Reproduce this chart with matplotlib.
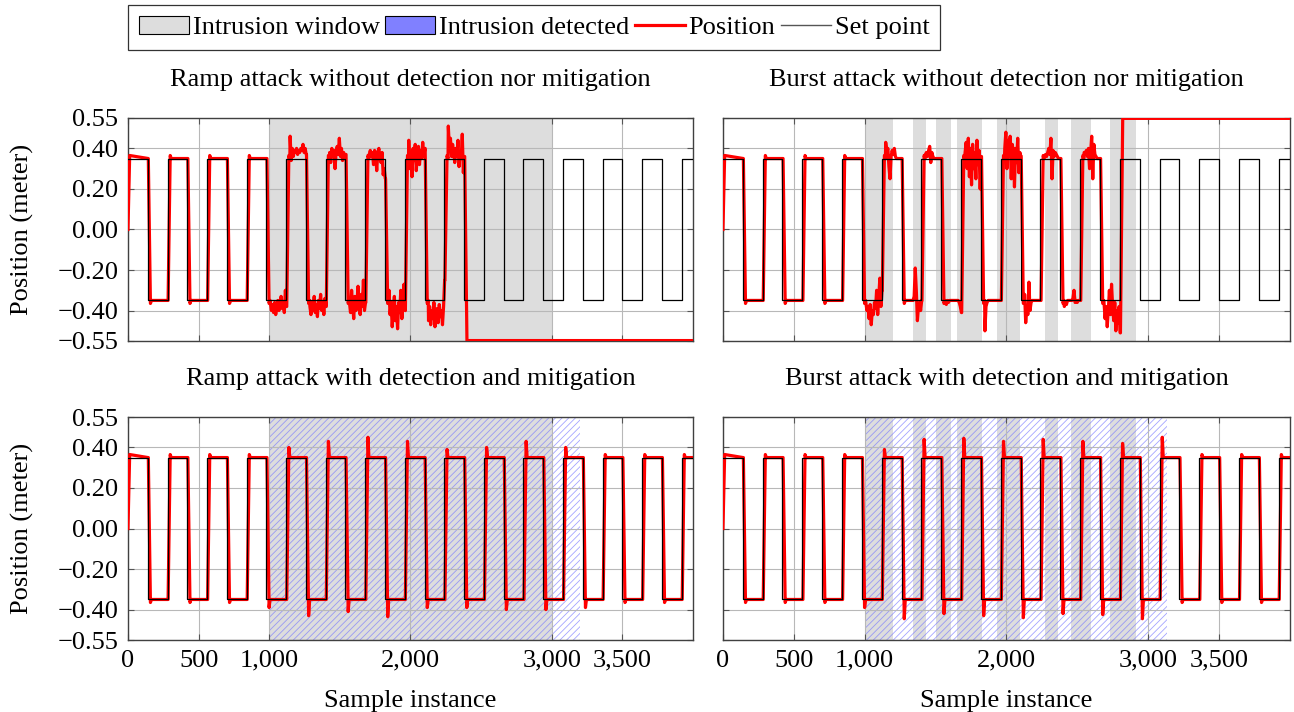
import numpy as np
import matplotlib.pyplot as plt
from matplotlib.patches import Patch
from matplotlib.lines import Line2D

plt.rcParams['font.family'] = ['Liberation Serif', 'DejaVu Serif']
plt.rcParams['hatch.linewidth'] = 0.6

# set point: square wave switching every 140 samples
sp_times = [0, 140, 280, 420, 560, 700, 840, 980, 1120, 1260, 1400, 1540, 1680, 1820,
            1960, 2100, 2240, 2380, 2520, 2660, 2800, 2940, 3080, 3220, 3360, 3500,
            3640, 3780, 3920]
sp_levels = [0.35, -0.35, 0.35, -0.35, 0.35, -0.35, 0.35, -0.35, 0.35, -0.35, 0.35,
             -0.35, 0.35, -0.35, 0.35, -0.35, 0.35, -0.35, 0.35, -0.35, 0.35, -0.35,
             0.35, -0.35, 0.35, -0.35, 0.35, -0.35, 0.35]
x_end = 4000

# intrusion windows and detection spans
ramp_window = (1000, 3000)
ramp_detected = (1000, 3200)
burst_windows = [(1000, 1200), (1340, 1430), (1500, 1610), (1650, 1830),
                 (1935, 2095), (2270, 2365), (2455, 2595), (2730, 2915)]
burst_detected = (1000, 3130)

# position readings inside attacked half periods (index = half period number)
ramp_off_noise = {
    7: [-0.36, -0.40, -0.37, -0.41, -0.36, -0.42, -0.38, -0.35, -0.40, -0.37, -0.33, -0.39, -0.36, -0.41, -0.30, -0.38],
    8: [0.46, 0.34, 0.40, 0.36, 0.39, 0.38, 0.40, 0.37, 0.39, 0.38, 0.40, 0.39, 0.42, 0.38, 0.40, 0.37],
    9: [-0.38, -0.42, -0.36, -0.40, -0.33, -0.41, -0.37, -0.43, -0.35, -0.39, -0.32, -0.40, -0.36, -0.42, -0.34, -0.38],
    10: [0.38, 0.33, 0.40, 0.36, 0.39, 0.30, 0.38, 0.41, 0.37, 0.45, 0.36, 0.40, 0.34, 0.38, 0.36, 0.37],
    11: [-0.36, -0.41, -0.30, -0.38, -0.44, -0.33, -0.40, -0.36, -0.28, -0.39, -0.42, -0.32, -0.38, -0.25, -0.40, -0.36],
    12: [0.37, 0.39, 0.36, 0.38, 0.32, 0.39, 0.37, 0.29, 0.38, 0.40, 0.35, 0.33, 0.38, 0.27, 0.30, 0.25],
    13: [-0.30, -0.42, -0.36, -0.48, -0.40, -0.33, -0.45, -0.38, -0.49, -0.36, -0.41, -0.30, -0.44, -0.37, -0.27, -0.40],
    14: [0.44, 0.30, 0.38, 0.26, 0.40, 0.34, 0.42, 0.29, 0.37, 0.41, 0.32, 0.39, 0.35, 0.43, 0.36, 0.40],
    15: [-0.45, -0.38, -0.47, -0.40, -0.44, -0.36, -0.48, -0.41, -0.39, -0.46, -0.37, -0.43, -0.40, -0.47, -0.38, -0.25],
    16: [0.51, 0.40, 0.45, 0.36, 0.42, 0.38, 0.33, 0.40, 0.36, 0.44, 0.31, 0.38, 0.35, 0.47, 0.28, 0.36],
}
ramp_off_fail = (2380, -0.548)

burst_off_noise = {
    7: [-0.36, -0.40, -0.38, -0.44, -0.37, -0.47, -0.40, -0.42, -0.36, -0.39, -0.30, -0.42, -0.33, -0.24, -0.38, -0.30],
    8: [0.43, 0.38, 0.40, 0.31, 0.25, 0.36, 0.39, 0.37, 0.40, 0.36, 0.35, 0.35, 0.35, 0.35, 0.35, 0.35],
    9: [-0.35, -0.35, -0.35, -0.35, -0.35, -0.35, -0.35, -0.35, -0.33, -0.19, -0.30, -0.45, -0.38, -0.36, -0.40, -0.35],
    10: [0.37, 0.38, 0.36, 0.39, 0.41, 0.33, 0.38, 0.36, 0.35, 0.35, 0.35, 0.35, 0.35, 0.35, 0.35, 0.35],
    11: [-0.36, -0.37, -0.35, -0.36, -0.35, -0.35, -0.35, -0.35, -0.35, -0.35, -0.35, -0.35, -0.35, -0.36, -0.38, -0.41],
    12: [0.38, 0.43, 0.30, 0.45, 0.26, 0.40, 0.22, 0.42, 0.30, 0.38, 0.25, 0.44, 0.32, 0.39, 0.20, 0.36],
    13: [-0.50, -0.38, -0.36, -0.35, -0.35, -0.35, -0.35, -0.35, -0.35, -0.35, -0.35, -0.35, -0.35, -0.35, -0.35, -0.35],
    14: [0.40, 0.48, 0.30, 0.44, 0.36, 0.46, 0.25, 0.42, 0.38, 0.21, 0.40, 0.33, 0.45, 0.28, 0.38, 0.36],
    15: [-0.32, -0.46, -0.38, -0.42, -0.26, -0.40, -0.36, -0.35, -0.35, -0.35, -0.35, -0.35, -0.35, -0.35, -0.35, -0.35],
    16: [0.36, 0.37, 0.36, 0.38, 0.40, 0.37, 0.45, 0.25, 0.39, 0.36, 0.38, 0.37, 0.36, 0.35, 0.35, 0.35],
    17: [-0.38, -0.36, -0.37, -0.35, -0.35, -0.35, -0.35, -0.35, -0.34, -0.30, -0.36, -0.35, -0.36, -0.35, -0.35, -0.35],
    18: [0.38, 0.37, 0.39, 0.36, 0.40, 0.30, 0.38, 0.46, 0.25, 0.42, 0.37, 0.36, 0.35, 0.35, 0.35, 0.35],
    19: [-0.36, -0.44, -0.38, -0.48, -0.40, -0.30, -0.42, -0.27, -0.38, -0.45, -0.36, -0.50, -0.40, -0.46, -0.38, -0.51],
}
burst_off_fail = (2800, 0.548)

# overshoot peaks after each switch when mitigation is active
ramp_on_peaks = {7: -0.39, 8: 0.40, 9: -0.43, 10: 0.43, 11: -0.41, 12: 0.45, 13: -0.435,
                 14: 0.43, 15: -0.39, 16: 0.39, 17: -0.39, 18: 0.40, 19: -0.40, 20: 0.43,
                 21: -0.40, 22: 0.40, 23: -0.39}
burst_on_peaks = {7: -0.39, 8: 0.39, 9: -0.445, 10: 0.44, 11: -0.42, 12: 0.445, 13: -0.43,
                  14: 0.43, 15: -0.44, 16: 0.44, 17: -0.42, 18: 0.43, 19: -0.425, 20: 0.42,
                  21: -0.445, 22: 0.45}
nominal_peak = 0.365


def position_trace(noise, peaks, fail=None):
    xs, ys = [0, 12], [0.0, 0.365]
    prev = 0.35
    for k, t0 in enumerate(sp_times):
        lvl = sp_levels[k]
        if fail is not None and t0 >= fail[0]:
            xs += [t0 + 4, t0 + 20, x_end]
            ys += [prev, fail[1], fail[1]]
            return xs, ys
        if k > 0:
            pk = peaks.get(k, np.sign(lvl) * nominal_peak)
            xs += [t0 + 4, t0 + 19, t0 + 26]
            ys += [prev, pk, lvl]
        t1 = min(t0 + 140, x_end)
        vals = noise.get(k)
        if vals:
            xs += list(np.linspace(t0 + 28, t1 + 2, len(vals)))
            ys += vals
        else:
            xs.append(t1 + 2)
            ys.append(lvl)
        prev = ys[-1]
    return xs, ys


panels = [
    ('Ramp attack without detection nor mitigation', [ramp_window], None, ramp_off_noise, {}, ramp_off_fail),
    ('Burst attack without detection nor mitigation', burst_windows, None, burst_off_noise, {}, burst_off_fail),
    ('Ramp attack with detection and mitigation', [ramp_window], ramp_detected, {}, ramp_on_peaks, None),
    ('Burst attack with detection and mitigation', burst_windows, burst_detected, {}, burst_on_peaks, None),
]

fig = plt.figure(figsize=(12.94, 7.12), dpi=100)
rects = [[0.0989, 0.5211, 0.4366, 0.3132], [0.5587, 0.5211, 0.4382, 0.3132],
         [0.0989, 0.1011, 0.4366, 0.3132], [0.5587, 0.1011, 0.4382, 0.3132]]

fs = 19
sp_x = sp_times + [x_end]
sp_y = sp_levels + [sp_levels[-1]]

for i, (title, windows, detected, noise, peaks, fail) in enumerate(panels):
    ax = fig.add_axes(rects[i])
    for a, b in windows:
        ax.axvspan(a, b, color='#dddddd', lw=0, zorder=0.1)
    if detected is not None:
        ax.axvspan(detected[0], detected[1], facecolor='none', edgecolor=(0.45, 0.45, 1.0, 0.65),
                   hatch='/////', lw=0, zorder=0.2)
    px, py = position_trace(noise, peaks, fail)
    ax.plot(px, py, color='red', lw=2.3, zorder=3)
    ax.step(sp_x, sp_y, where='post', color='black', lw=0.9, zorder=4)

    ax.set_xlim(0, x_end)
    ax.set_ylim(-0.55, 0.55)
    ax.set_xticks([0, 500, 1000, 2000, 3000, 3500])
    ax.set_yticks([-0.55, -0.4, -0.2, 0, 0.2, 0.4, 0.55])
    ax.grid(True, color='#b8b8b8', lw=0.8)
    ax.set_axisbelow(True)
    ax.tick_params(direction='in', length=4, top=True, right=True, color='#555555',
                   labelsize=fs, pad=7)
    for s in ax.spines.values():
        s.set_color('#404040')
        s.set_linewidth(1.0)
    ax.set_title(title, fontsize=fs, pad=23)

    if i % 2 == 0:
        ax.set_yticklabels(['\u22120.55', '\u22120.40', '\u22120.20', '0.00', '0.20', '0.40', '0.55'])
        ax.set_ylabel('Position (meter)', fontsize=fs, labelpad=17)
    else:
        ax.set_yticklabels([])
    if i >= 2:
        ax.set_xticklabels(['0', '500', '1,000', '2,000', '3,000', '3,500'])
        ax.set_xlabel('Sample instance', fontsize=fs, labelpad=13)
    else:
        ax.set_xticklabels([])

handles = [Patch(facecolor='#dddddd', edgecolor='black', lw=0.8),
           Patch(facecolor='#8080ff', edgecolor='black', lw=0.8),
           Line2D([], [], color='red', lw=2.3),
           Line2D([], [], color='#555555', lw=1)]
labels = ['Intrusion window', 'Intrusion detected', 'Position', 'Set point']
leg = fig.legend(handles, labels, loc='upper left', bbox_to_anchor=(128 / 1294, 1 - 5 / 712),
                 ncol=4, fontsize=fs, frameon=True, fancybox=False, edgecolor='black',
                 handlelength=1.9, handletextpad=0.15, columnspacing=0.2, borderpad=0.4,
                 borderaxespad=0)
leg.get_frame().set_linewidth(0.9)

fig.savefig('out.png', dpi=100)
